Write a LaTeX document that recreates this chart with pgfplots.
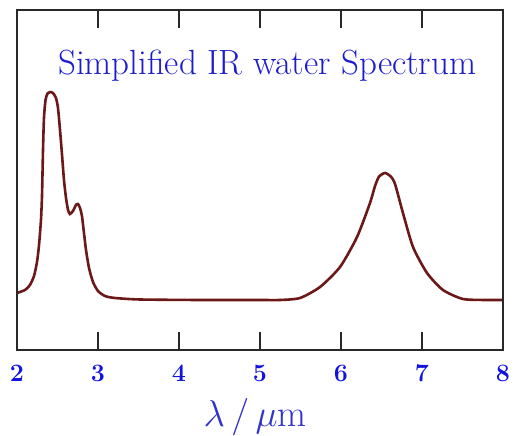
\documentclass[border=0pt]{standalone}
\usepackage{graphicx}
\usepackage{pgfplots}
\pgfplotsset{compat=1.18}
\definecolor{curvered}{RGB}{108,24,24}
\definecolor{titleblue}{RGB}{28,28,205}
\definecolor{tickblue}{RGB}{18,18,225}
\definecolor{labelblue}{RGB}{50,50,205}
\definecolor{framegray}{RGB}{40,40,40}
\begin{document}
\begin{tikzpicture}
\useasboundingbox (-17pt,-86pt) rectangle (498pt,350pt);
\begin{axis}[
  scale only axis,
  width=486pt, height=340pt,
  xmin=2, xmax=8, ymin=0, ymax=340,
  axis line style={framegray, line width=1.6pt},
  xtick={2,3,4,5,6,7,8},
  xticklabels={2,3,4,5,6,7,8},
  ytick=\empty,
  tick align=inside,
  major tick length=18pt,
  every tick/.style={framegray, line width=1.6pt},
  xtick pos=both,
  xticklabel pos=bottom,
  xticklabel style={anchor=base, yshift=-32pt, text=tickblue,
    font=\fontsize{25}{27}\selectfont\bfseries},
  xlabel={\scalebox{1.5}{$\lambda\,/\,\mu$m}},
  xlabel style={at={(axis description cs:0.49,0)}, anchor=base, yshift=-77pt,
    text=labelblue, font=\fontsize{25}{27}\selectfont},
  clip=true,
  clip mode=individual,
  axis on top,
]
\addplot[curvered, line width=2.6pt, smooth, tension=0.4] coordinates {
(2.000,57) (2.099,60) (2.160,65) (2.210,74) (2.247,88) (2.272,105)
(2.296,130) (2.309,155) (2.321,200) (2.333,232) (2.352,250) (2.377,256.5)
(2.407,258) (2.444,257) (2.481,252) (2.506,242) (2.531,220) (2.556,195)
(2.580,170) (2.605,152) (2.630,140) (2.654,136) (2.691,139) (2.728,145)
(2.753,146) (2.778,142) (2.802,134) (2.827,117) (2.852,100) (2.889,82)
(2.938,68) (3.000,59) (3.086,54) (3.210,52) (3.519,50.5) (4.259,50)
(5.000,50) (5.247,50) (5.494,52) (5.741,63) (5.988,83) (6.198,113)
(6.358,147) (6.420,164) (6.470,173.5) (6.543,177) (6.615,173.5) (6.667,166)
(6.765,137) (6.889,103) (7.062,77) (7.259,60) (7.506,51) (7.800,50) (8.000,50)
};
\node[font=\fontsize{35}{40}\selectfont, text=titleblue, anchor=base]
  at (axis cs:5.09,275) {Simplified IR water Spectrum};
\end{axis}
\end{tikzpicture}
\end{document}
